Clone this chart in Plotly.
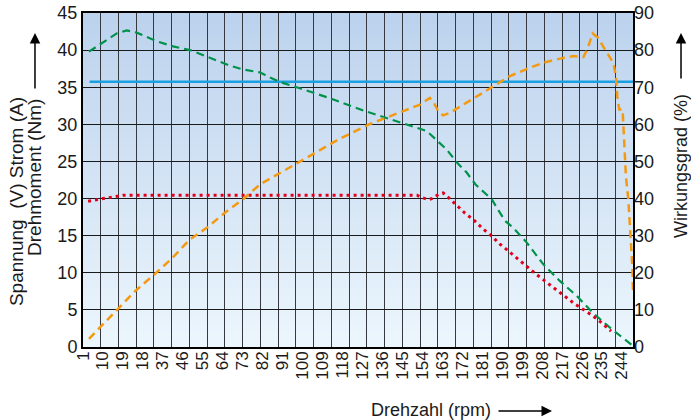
import base64, struct, zlib
import plotly.graph_objects as go

# ---------------- data ----------------
tick_vals = [1, 10, 19, 28, 37, 46, 55, 64, 73, 82, 91, 100, 109, 118, 127, 136,
             145, 154, 163, 172, 181, 190, 199, 208, 217, 226, 235, 244]
tick_text = ["1", "10", "19", "18", "37", "46", "55", "64", "73", "82", "91", "100",
             "109", "118", "127", "136", "145", "154", "163", "172", "181", "190",
             "199", "208", "217", "226", "235", "244"]

voltage_rpm = [4, 249]
voltage = [35.75, 35.75]

current_rpm = [3.7, 16.2, 20.7, 25.2, 34.2, 41.6, 49.3, 58.3, 67.3, 73.1, 80.8, 85.3,
               89.8, 97.3, 104.7, 111.5, 128, 143.9, 149.8, 156, 160.5, 165, 169.5,
               174, 178, 185.3, 187.5, 191.3, 194.9, 201, 208.4, 216, 223.6, 230.9,
               238.6, 248.4]
current = [39.8, 42.25, 42.65, 42.35, 41.2, 40.5, 40.0, 39.0, 37.9, 37.4, 37.0, 36.3,
           35.7, 35.0, 34.3, 33.6, 31.8, 30.2, 29.7, 29.1, 27.8, 26.6, 24.9, 23.5,
           21.9, 19.9, 18.8, 17.0, 16.1, 14.1, 11.2, 8.9, 6.9, 4.6, 2.6, 0.3]

torque_rpm = [3.3, 8.7, 16.9, 19, 151.6, 153.7, 156.7, 158.9, 161.2, 163.4, 165.7,
              169.5, 173.2, 177.4, 181.2, 185.3, 189, 193.2, 197.3, 201.5, 205.6,
              209.7, 213.8, 218.2, 222.5, 226.6, 231.1, 234.9, 239.1]
torque = [19.65, 19.95, 20.35, 20.45, 20.45, 20.15, 19.85, 20.05, 20.55, 20.75, 20.15,
          19.05, 18.05, 17.05, 15.95, 14.95, 13.85, 12.85, 11.75, 10.75, 9.75, 8.75,
          7.85, 6.85, 5.85, 5.05, 4.15, 3.25, 2.15]

efficiency_rpm = [3.7, 16.2, 24.4, 32.7, 41, 49.2, 56.8, 65, 73.3, 80.8, 89.8, 98.8,
                  107.9, 117, 130.4, 143.9, 152.9, 157.4, 158.9, 161.2, 163.4, 166.5,
                  174, 184.5, 193.5, 201, 208.5, 217.5, 222, 226.6, 228.4, 230.8,
                  233.3, 236.3, 240.1, 241.3, 241.9, 242.8, 244.3, 244.9, 245.8,
                  246.9, 247.9, 248.7, 249]
efficiency = [2.2, 10.1, 15.0, 19.3, 23.8, 29.0, 32.1, 36.2, 39.9, 43.8, 46.9, 50.1,
              53.2, 56.2, 60.1, 63.1, 65.3, 67.1, 66.2, 63.5, 62.4, 63.1, 65.8, 69.8,
              73.0, 74.9, 76.6, 77.9, 78.4, 78.1, 80.2, 84.5, 83.3, 80.2, 76.6, 73.0,
              67.6, 64.0, 64.0, 56.8, 46.0, 39.7, 30.8, 21.7, 15.0]

x_range = [1, 249]
left_range = [0, 45]
right_range = [0, 90]

# ---------------- background gradient image ----------------
def gradient_png(top, bottom, h=256):
    raw = b""
    for i in range(h):
        t = i / (h - 1)
        raw += b"\x00" + bytes(round(top[k] + (bottom[k] - top[k]) * t) for k in range(3))

    def chunk(tag, data):
        return (struct.pack(">I", len(data)) + tag + data +
                struct.pack(">I", zlib.crc32(tag + data) & 0xffffffff))

    ihdr = struct.pack(">IIBBBBB", 1, h, 8, 2, 0, 0, 0)
    png = (b"\x89PNG\r\n\x1a\n" + chunk(b"IHDR", ihdr) +
           chunk(b"IDAT", zlib.compress(raw)) + chunk(b"IEND", b""))
    return "data:image/png;base64," + base64.b64encode(png).decode()

bg = gradient_png((188, 210, 237), (236, 246, 253))

FONT = "Liberation Sans, Arial, Helvetica, sans-serif"

fig = go.Figure()
fig.add_trace(go.Scatter(x=voltage_rpm, y=voltage, mode="lines",
                         line=dict(color="#18a0e0", width=2.5), hoverinfo="skip"))
fig.add_trace(go.Scatter(x=current_rpm, y=current, mode="lines",
                         line=dict(color="#00924a", width=2.2, dash="8px,5px"), hoverinfo="skip"))
fig.add_trace(go.Scatter(x=torque_rpm, y=torque, mode="lines",
                         line=dict(color="#e2001a", width=3, dash="3px,4px"), hoverinfo="skip"))
fig.add_trace(go.Scatter(x=efficiency_rpm, y=efficiency, mode="lines", yaxis="y2",
                         line=dict(color="#f39a12", width=2.5, dash="8px,5px"), hoverinfo="skip"))
# carrier for the labelled x axis
fig.add_trace(go.Scatter(x=[None], y=[None], xaxis="x2", mode="lines", hoverinfo="skip"))

fig.update_layout(
    width=691, height=420,
    margin=dict(l=83, r=58, t=13, b=73, autoexpand=False),
    paper_bgcolor="white",
    plot_bgcolor="rgba(0,0,0,0)",
    showlegend=False,
    font=dict(family=FONT, size=17, color="#1a1a1a"),
    xaxis=dict(range=x_range, tickmode="linear", tick0=1, dtick=8,
               showticklabels=False, ticks="", showgrid=True,
               gridcolor="#363a40", gridwidth=1.2,
               showline=True, linecolor="black", linewidth=2, mirror=True,
               zeroline=False),
    xaxis2=dict(range=x_range, overlaying="x", anchor="y", side="bottom",
                tickmode="array", tickvals=tick_vals, ticktext=tick_text,
                tickangle=-90, ticks="", showgrid=False, showline=False,
                zeroline=False, tickfont=dict(size=17)),
    yaxis=dict(range=left_range, tickmode="linear", tick0=0, dtick=5, ticks="",
               showgrid=True, gridcolor="#1a1a1a", gridwidth=1,
               showline=True, linecolor="black", linewidth=2, mirror=True,
               zeroline=False, tickfont=dict(size=18)),
    yaxis2=dict(range=right_range, overlaying="y", side="right", anchor="x",
                tickmode="linear", tick0=0, dtick=10, ticks="", showgrid=False,
                zeroline=False, showline=False, tickfont=dict(size=18)),
    images=[dict(source=bg, xref="x", yref="y", x=x_range[0], y=left_range[1],
                 sizex=x_range[1] - x_range[0], sizey=left_range[1] - left_range[0],
                 sizing="stretch", layer="below", xanchor="left", yanchor="top")],
)

ann_font = dict(family=FONT, size=18, color="#1a1a1a")
left_font = dict(family=FONT, size=19, color="#1a1a1a")
arrow = dict(showarrow=True, arrowhead=2, arrowsize=1.4, arrowwidth=1.5,
             arrowcolor="black", axref="pixel", ayref="pixel", text="",
             xref="paper", yref="paper")
fig.add_annotation(text="Spannung\u00a0\u00a0(V) Strom (A)", xref="paper", yref="paper",
                   x=-0.1218, y=0.434, textangle=-90, showarrow=False,
                   xanchor="center", yanchor="middle", font=left_font)
fig.add_annotation(text="Drehmoment (Nm)", xref="paper", yref="paper",
                   x=-0.0873, y=0.509, textangle=-90, showarrow=False,
                   xanchor="center", yanchor="middle", font=left_font)
fig.add_annotation(x=-0.0873, y=0.940, ax=0, ay=57, **arrow)
fig.add_annotation(text="Wirkungsgrad (%)", xref="paper", yref="paper",
                   x=1.0873, y=0.542, textangle=-90, showarrow=False,
                   xanchor="center", yanchor="middle", font=ann_font)
fig.add_annotation(x=1.0873, y=0.940, ax=0, ay=47, **arrow)
fig.add_annotation(text="Drehzahl (rpm)", xref="paper", yref="paper",
                   x=0.6327, y=-0.1886, showarrow=False,
                   xanchor="center", yanchor="middle", font=ann_font)
fig.add_annotation(x=0.8527, y=-0.1916, ax=-55, ay=0, **arrow)

fig.write_html("out.html")
